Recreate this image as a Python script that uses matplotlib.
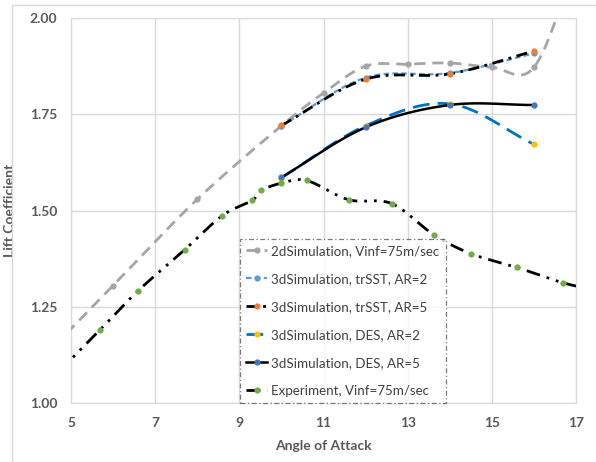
import matplotlib
matplotlib.use("Agg")
import matplotlib.pyplot as plt
import numpy as np
from matplotlib.lines import Line2D
from matplotlib.patches import Rectangle

plt.rcParams['font.family'] = ['Lato', 'DejaVu Sans']

# lift coefficient vs angle of attack
aoa_2d = [4, 6, 8, 10, 11, 12, 13, 14, 15, 16, 17]
cl_2d = [1.08, 1.305, 1.529, 1.72, 1.805, 1.875, 1.88, 1.883, 1.872, 1.872, 2.14]

aoa_3d = [10, 12, 14, 16]
cl_trsst_ar2 = [1.72, 1.845, 1.857, 1.908]
cl_trsst_ar5 = [1.721, 1.841, 1.855, 1.914]
cl_des_ar2 = [1.585, 1.72, 1.777, 1.672]
cl_des_ar5 = [1.586, 1.716, 1.774, 1.774]

aoa_exp = [4.7, 5.69, 6.6, 7.7, 8.6, 9.3, 9.52, 10.0, 10.6, 11.6, 12.62, 13.62,
           14.5, 15.6, 16.7, 17.6]
cl_exp = [1.08, 1.19, 1.292, 1.398, 1.487, 1.526, 1.552, 1.571, 1.578, 1.528,
          1.518, 1.437, 1.388, 1.352, 1.312, 1.29]

labels = ['2dSimulation, Vinf=75m/sec',
          '3dSimulation, trSST, AR=2',
          '3dSimulation, trSST, AR=5',
          '3dSimulation, DES, AR=2',
          '3dSimulation, DES, AR=5',
          'Experiment, Vinf=75m/sec']


def smooth(x, y, n=30):
    # catmull-rom curve through the points, like a smoothed excel line
    x = np.asarray(x, float)
    y = np.asarray(y, float)
    px = np.concatenate([[2 * x[0] - x[1]], x, [2 * x[-1] - x[-2]]])
    py = np.concatenate([[2 * y[0] - y[1]], y, [2 * y[-1] - y[-2]]])
    xs, ys = [], []
    t = np.linspace(0, 1, n)
    for i in range(1, len(px) - 2):
        for p, out in ((px, xs), (py, ys)):
            p0, p1, p2, p3 = p[i - 1], p[i], p[i + 1], p[i + 2]
            out.extend(0.5 * (2 * p1 + (-p0 + p2) * t
                              + (2 * p0 - 5 * p1 + 4 * p2 - p3) * t ** 2
                              + (-p0 + 3 * p1 - 3 * p2 + p3) * t ** 3))
    return np.array(xs), np.array(ys)


fig = plt.figure(figsize=(5.96, 4.62), dpi=100)
fig.patches.append(Rectangle((12 / 596, -0.1), 1.2, (457 + 46.2) / 462,
                             transform=fig.transFigure, fill=False,
                             edgecolor='#D9D9D9', lw=1))
ax = fig.add_axes([71 / 596, 1 - 403 / 462, 505 / 596, 385 / 462])

series = [
    (aoa_2d, cl_2d, '#A5A5A5', (0, (4, 2.5)), 2.0, '#A5A5A5'),
    (aoa_3d, cl_trsst_ar2, '#5B9BD5', (0, (2.5, 1.5)), 1.6, '#5B9BD5'),
    (aoa_3d, cl_trsst_ar5, 'black', (0, (4, 2, 1, 2)), 2.0, '#ED7D31'),
    (aoa_3d, cl_des_ar2, '#0070C0', (0, (6, 3)), 2.0, '#FFC000'),
    (aoa_3d, cl_des_ar5, 'black', '-', 1.8, '#4472C4'),
    (aoa_exp, cl_exp, 'black', (0, (5, 2.5, 1, 2.5, 1, 2.5)), 2.0, '#70AD47'),
]

handles = []
for (x, y, c, ls, lw, mc), lab in zip(series, labels):
    sx, sy = smooth(x, y)
    ax.plot(sx, sy, color=c, ls=ls, lw=lw, zorder=3)
    ax.plot(x, y, 'o', color=mc, ms=4.5, mec='none', zorder=4)
    handles.append(Line2D([], [], color=c, ls=ls, lw=lw, marker='o',
                          markerfacecolor=mc, markeredgecolor='none', ms=4.5))

ax.set_xlim(5, 17)
ax.set_ylim(1.0, 2.0)
ax.set_xticks([5, 7, 9, 11, 13, 15, 17])
ax.set_yticks([1.0, 1.25, 1.5, 1.75, 2.0])
ax.set_yticklabels(['1.00', '1.25', '1.50', '1.75', '2.00'])
ax.grid(True, color='#D9D9D9', lw=1)
ax.set_axisbelow(True)
for s in ax.spines.values():
    s.set_color('#D9D9D9')
ax.tick_params(length=0, colors='#595959', labelsize=10, pad=10)
for t in ax.get_xticklabels() + ax.get_yticklabels():
    t.set_fontweight('bold')

ax.set_xlabel('Angle of Attack', fontsize=10, fontweight='bold',
              color='#595959', labelpad=8)
ax.set_ylabel('Lift Coefficient', fontsize=10, fontweight='bold',
              color='#595959', labelpad=10)

leg = ax.legend(handles, labels, loc='upper left',
                bbox_to_anchor=((240 - 71) / 505, (403 - 239) / 385),
                fontsize=9.6, frameon=True, fancybox=False, handlelength=1.6,
                handletextpad=0.3, labelspacing=1.2, borderpad=0.45,
                borderaxespad=0, labelcolor='#404040')
leg.get_frame().set_edgecolor('#595959')
leg.get_frame().set_linestyle((0, (4, 2, 1, 2)))
leg.get_frame().set_linewidth(0.9)

fig.savefig('out.png', dpi=100)
